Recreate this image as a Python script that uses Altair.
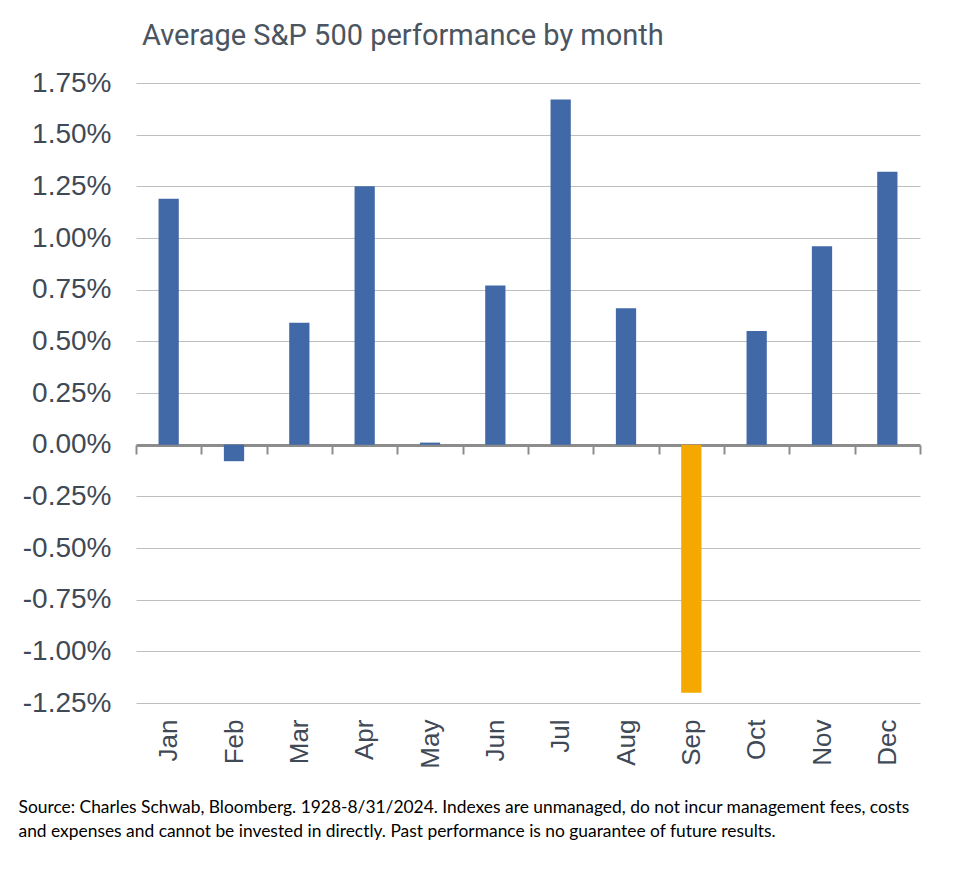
import altair as alt
import pandas as pd

months = ["Jan", "Feb", "Mar", "Apr", "May", "Jun", "Jul", "Aug", "Sep", "Oct", "Nov", "Dec"]
avg_return = [1.19, -0.08, 0.59, 1.25, 0.01, 0.77, 1.67, 0.66, -1.20, 0.55, 0.96, 1.32]
highlight = ["no", "no", "no", "no", "no", "no", "no", "no", "yes", "no", "no", "no"]
y_ticks = [-1.25, -1.0, -0.75, -0.5, -0.25, 0.0, 0.25, 0.5, 0.75, 1.0, 1.25, 1.5, 1.75]

title_text = "Average S&P 500 performance by month"
footnote = [
    "Source: Charles Schwab, Bloomberg. 1928-8/31/2024. Indexes are unmanaged, do not incur management fees, costs",
    "and expenses and cannot be invested in directly. Past performance is no guarantee of future results.",
]

df = pd.DataFrame({"month": months, "ret": avg_return, "hl": highlight})

axis_color = "#8C8C8C"
label_color = "#3F4A56"

bars = alt.Chart(df).mark_bar(width={"band": 0.31}).encode(
    x=alt.X(
        "month:N",
        sort=months,
        scale=alt.Scale(paddingInner=0, paddingOuter=0),
        axis=alt.Axis(
            orient="bottom",
            offset=-258,
            domain=True,
            domainColor=axis_color,
            domainWidth=3,
            ticks=True,
            tickBand="extent",
            tickColor=axis_color,
            tickWidth=2,
            tickSize=9,
            labelAngle=-90,
            labelAlign="right",
            labelBaseline="middle",
            labelPadding=265,
            labelFont="Liberation Sans",
            labelFontSize=26,
            labelColor=label_color,
            title=footnote,
            titleFont="Lato",
            titleFontSize=17.4,
            titleFontWeight="normal",
            titleColor="#000000",
            titleAlign="left",
            titleBaseline="alphabetic",
            titleAnchor="start",
            titleX=-118,
            titleY=367,
            titleLineHeight=24,
        ),
    ),
    y=alt.Y(
        "ret:Q",
        scale=alt.Scale(domain=[-1.25, 1.75], nice=False),
        axis=alt.Axis(
            values=y_ticks,
            labelExpr="(datum.value < 0 ? '-' : '') + format(abs(datum.value), '.2f') + '%'",
            domain=False,
            ticks=False,
            grid=True,
            gridColor="#BFBFBF",
            gridWidth=1,
            labelFont="Liberation Sans",
            labelFontSize=28,
            labelColor=label_color,
            labelPadding=25,
            title=None,
        ),
    ),
    color=alt.Color(
        "hl:N",
        scale=alt.Scale(domain=["no", "yes"], range=["#4169A8", "#F5A800"]),
        legend=None,
    ),
)

chart = bars.properties(
    width=784,
    height=620,
    title=alt.TitleParams(
        text=title_text,
        anchor="start",
        frame="group",
        font="Roboto",
        fontSize=29,
        fontWeight="normal",
        color="#4A5560",
        dx=6,
        offset=18,
    ),
    autosize=alt.AutoSizeParams(type="none"),
    padding={"left": 136, "top": 83, "right": 33, "bottom": 167},
    background="#FFFFFF",
).configure_view(stroke=None)

chart.save("out.html", embed_options={"renderer": "svg", "actions": False})
